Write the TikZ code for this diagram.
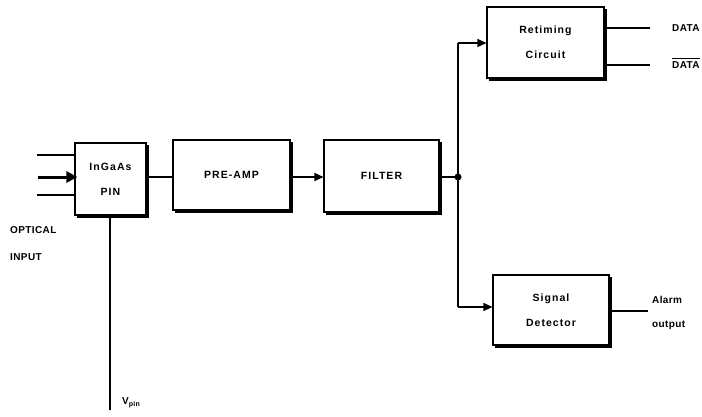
\documentclass[tikz,border=0pt]{standalone}
\usepackage{fontspec}
\setmainfont{Liberation Sans}
\newfontfamily\boxfont[LetterSpace=10]{Liberation Sans}
\newfontfamily\lblfont[LetterSpace=4]{Liberation Sans}
\usetikzlibrary{arrows.meta}
\begin{document}
\begin{tikzpicture}[x=1pt,y=-1pt,
  blk/.style={draw,line width=1.1pt,fill=white,minimum width=#1,inner sep=0pt,align=center,font=\boxfont\bfseries\fontsize{10.5}{25}\selectfont},
  ln/.style={line width=1.1pt},
  arr/.style={ln,-{Triangle[length=9pt,width=8pt]}},
  lbl/.style={font=\lblfont\bfseries\fontsize{10}{11}\selectfont,inner sep=0pt}]
\useasboundingbox (0,0) rectangle (702,416);
% shadows
\fill (77,145) rectangle (148.5,217.5);
\fill (175,142) rectangle (292.5,212.5);
\fill (326,142) rectangle (441.5,214.5);
\fill (489,9) rectangle (606.5,80.5);
\fill (495,277) rectangle (611.5,347.5);
% boxes
\node[blk=71pt,minimum height=72pt] (pin) at (110.5,179) {InGaAs\\PIN};
\node[blk=117pt,minimum height=70pt] (amp) at (231.5,175) {PRE-AMP};
\node[blk=115pt,minimum height=72pt] (flt) at (381.5,176) {FILTER};
\node[blk=117pt,minimum height=71pt] (ret) at (545.5,42.5) {Retiming\\Circuit};
\node[blk=116pt,minimum height=70pt] (sig) at (551,310) {Signal\\Detector};
% inputs
\coordinate (i1) at (37,155);
\coordinate (i2) at (38,177);
\coordinate (i3) at (37,195);
\draw[ln] (i1) -- (i1 -| pin.west);
\draw[ln] (i3) -- (i3 -| pin.west);
\draw[line width=3pt,-{Triangle[length=11pt,width=11pt]}] (i2) -- ([xshift=3pt]i2 -| pin.west);
\node[lbl,anchor=west] (opt) at (10,230) {OPTICAL};
\node[lbl,anchor=west] (inp) at (10,257) {INPUT};
% vpin
\coordinate (vp) at (110,410);
\draw[line width=1.4pt] (vp |- pin.south) -- (vp);
\node[lbl,anchor=west] (vpl) at (122,403) {V\textsubscript{pin}};
% chain
\draw[ln] (pin.east |- 0,177) -- (amp.west |- 0,177);
\draw[arr] (amp.east |- 0,177) -- (flt.west |- 0,177);
\coordinate (dot) at (458,177);
\draw[ln] (flt.east |- 0,177) -- (dot);
\fill (dot) circle (3.5pt);
\coordinate (top) at (458,43);
\coordinate (bot) at (458,307);
\draw[ln] (top) -- (bot);
\draw[arr] (top) -- (ret.west |- top);
\draw[arr] (bot) -- (sig.west |- bot);
% outputs
\coordinate (d1) at (650,28);
\coordinate (d2) at (650,65);
\draw[ln] (ret.east |- d1) -- (d1);
\draw[ln] (ret.east |- d2) -- (d2);
\node[lbl,anchor=west] (dl1) at (672,28) {DATA};
\node[lbl,anchor=west] (dl2) at (672,65) {DATA};
\draw[line width=0.9pt] ([yshift=2.5pt]dl2.north west) -- ([yshift=2.5pt]dl2.north east);
\coordinate (al) at (648,311);
\draw[ln] (sig.east |- al) -- (al);
\node[lbl,anchor=west] (a1) at (652,300) {Alarm};
\node[lbl,anchor=west] (a2) at (652,325) {output};
\end{tikzpicture}
\end{document}
